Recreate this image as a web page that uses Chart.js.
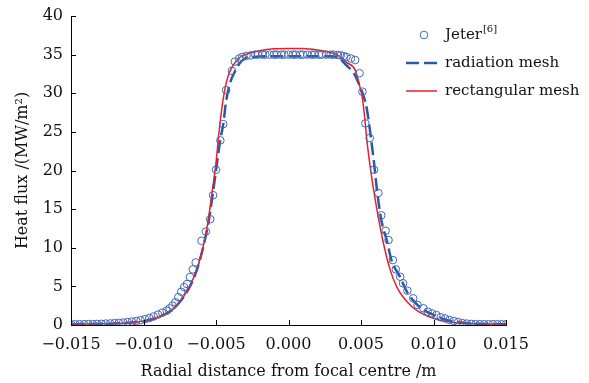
<!DOCTYPE html>
<html>
<head>
<meta charset="utf-8">
<script src="https://cdn.jsdelivr.net/npm/chart.js@4"></script>
<style>
  html, body { margin: 0; padding: 0; background: #fff; }
  #wrap { width: 589px; height: 383px; }
</style>
</head>
<body>
<div id="wrap"><canvas id="c" width="589" height="383"></canvas></div>
<script>
// Jeter[6] measured points
const jeterX = [
  -0.0150, -0.0147, -0.0144, -0.0141, -0.0138, -0.0135, -0.0132, -0.0129, -0.0126, -0.0123,
  -0.0120, -0.0117, -0.0114, -0.0111, -0.0108, -0.0105, -0.0102, -0.0099, -0.0096, -0.0093,
  -0.0090, -0.0087, -0.0084, -0.0082, -0.0080, -0.0078, -0.0076, -0.0074, -0.0072, -0.0070,
  -0.0068, -0.0066, -0.0064, -0.0060, -0.0057, -0.0054, -0.0052, -0.0050, -0.0047, -0.0045,
  -0.0043, -0.0039, -0.0037, -0.0034, -0.0032, -0.0029,
  -0.0026, -0.0023, -0.0021, -0.0018, -0.0016, -0.0013, -0.0010, -0.0008, -0.0005, -0.0003,
  0.0000, 0.0003, 0.0005, 0.0008, 0.0010, 0.0013, 0.0016, 0.0018, 0.0021, 0.0023,
  0.0026, 0.0029, 0.0031, 0.0034, 0.0036, 0.0038, 0.0040, 0.0043, 0.0046,
  0.0049, 0.0051, 0.0053, 0.0056, 0.0059, 0.0062, 0.0064, 0.0067, 0.0069, 0.0072,
  0.0074, 0.0077, 0.0079, 0.0082, 0.0086, 0.0089, 0.0093, 0.0096, 0.0099, 0.0102,
  0.0105, 0.0108, 0.0111, 0.0114, 0.0117, 0.0120, 0.0123, 0.0126, 0.0129, 0.0132,
  0.0135, 0.0138, 0.0141, 0.0144, 0.0147, 0.0150
];
const jeterY = [
  0.10, 0.10, 0.10, 0.10, 0.12, 0.12, 0.14, 0.15, 0.18, 0.20,
  0.25, 0.28, 0.32, 0.38, 0.45, 0.52, 0.62, 0.75, 0.90, 1.10,
  1.35, 1.60, 1.85, 2.15, 2.50, 2.95, 3.60, 4.30, 4.90, 5.30,
  6.20, 7.20, 8.10, 10.9, 12.1, 13.7, 16.8, 20.1, 23.9, 26.0,
  30.4, 32.9, 34.1, 34.5, 34.7, 34.85,
  34.9, 35.0, 35.0, 35.0, 35.0, 35.0, 35.0, 35.0, 35.0, 35.0,
  35.0, 35.0, 35.0, 35.0, 35.0, 35.0, 35.0, 35.0, 35.0, 35.0,
  35.0, 35.0, 35.0, 34.95, 34.9, 34.8, 34.7, 34.5, 34.3,
  32.6, 30.2, 26.1, 24.2, 20.1, 17.1, 14.2, 12.2, 11.0, 8.4,
  7.2, 6.25, 5.4, 4.44, 3.45, 2.59, 2.16, 1.72, 1.50, 1.29,
  1.00, 0.85, 0.65, 0.52, 0.38, 0.25, 0.18, 0.14, 0.12, 0.10,
  0.10, 0.10, 0.10, 0.10, 0.10, 0.10
];

// radiation mesh
const radX = [
  -0.0150, -0.0120, -0.0100, -0.0090, -0.0080, -0.0070, -0.0065, -0.0060, -0.0055, -0.0050,
  -0.0047, -0.0045, -0.0043, -0.0040, -0.0037, -0.0034, -0.0030, -0.0025, 0.0000, 0.0030,
  0.0035, 0.0040, 0.0045, 0.0049, 0.0052, 0.0054, 0.0057, 0.0059, 0.0061, 0.0064,
  0.0068, 0.0071, 0.0077, 0.0082, 0.0090, 0.0100, 0.0110, 0.0120, 0.0130, 0.0150
];
const radY = [
  0.10, 0.20, 0.50, 1.00, 2.00, 4.30, 6.20, 9.20, 13.5, 20.0,
  24.0, 26.0, 29.0, 31.5, 32.8, 33.8, 34.5, 34.7, 34.8, 34.8,
  34.5, 33.6, 32.6, 31.0, 29.5, 28.0, 24.0, 21.0, 17.5, 13.6,
  10.8, 8.4, 6.2, 4.2, 2.4, 1.3, 0.6, 0.3, 0.15, 0.10
];

// rectangular mesh
const rectX = [
  -0.0150, -0.0130, -0.0120, -0.0110, -0.0100, -0.0090, -0.0085, -0.0080, -0.0075, -0.0070,
  -0.0065, -0.0060, -0.0057, -0.0055, -0.0053, -0.0050, -0.0048, -0.0046, -0.0044, -0.0042,
  -0.0040, -0.0035, -0.0030, -0.0020, -0.0010, 0.0000, 0.0010, 0.0020, 0.0030, 0.0035,
  0.0040, 0.0046, 0.0049, 0.0051, 0.0053, 0.0054, 0.0057, 0.0060, 0.0065, 0.0070,
  0.0075, 0.0080, 0.0085, 0.0090, 0.0097, 0.0105, 0.0115, 0.0130, 0.0150
];
const rectY = [
  0.10, 0.15, 0.20, 0.30, 0.50, 1.00, 1.40, 2.00, 3.00, 4.40,
  6.30, 9.30, 11.8, 14.0, 16.8, 21.0, 24.8, 28.0, 30.4, 32.0,
  33.0, 34.4, 35.0, 35.5, 35.75, 35.8, 35.8, 35.6, 35.2, 34.8,
  34.0, 33.0, 31.0, 29.3, 26.0, 24.0, 19.6, 16.0, 11.0, 7.2,
  4.8, 3.4, 2.4, 1.7, 1.07, 0.60, 0.30, 0.15, 0.10
];

const xTicks = [-0.015, -0.010, -0.005, 0.000, 0.005, 0.010, 0.015];
const yTicks = [0, 5, 10, 15, 20, 25, 30, 35, 40];

const FONT = 'DejaVu Serif';
const BLUE_PT = '#4067b4';
const BLUE_LINE = '#2b58a8';
const RED = '#e2232b';

const zip = (xs, ys) => xs.map((x, i) => ({ x: x, y: ys[i] }));
const fmtX = v => (v < 0 ? '\u2212' : '') + Math.abs(v).toFixed(3);

// inward tick marks on both axes
const inwardTicks = {
  id: 'inwardTicks',
  afterDraw(chart) {
    const { ctx, chartArea: a, scales: { x, y } } = chart;
    ctx.save();
    ctx.strokeStyle = '#000';
    ctx.lineWidth = 1;
    ctx.beginPath();
    xTicks.forEach(v => {
      const px = Math.round(x.getPixelForValue(v)) + 0.5;
      ctx.moveTo(px, a.bottom);
      ctx.lineTo(px, a.bottom - 5);
    });
    yTicks.forEach(v => {
      const py = Math.round(y.getPixelForValue(v)) + 0.5;
      ctx.moveTo(a.left, py);
      ctx.lineTo(a.left + 5, py);
    });
    ctx.stroke();
    ctx.restore();
  }
};

// legend with superscript reference
const refLegend = {
  id: 'refLegend',
  afterDraw(chart) {
    const ctx = chart.ctx;
    const x0 = 406, x1 = 437, tx = 445;
    const rows = [35, 63, 91];
    const big = '15px "' + FONT + '"';
    ctx.save();
    ctx.font = big;
    ctx.fillStyle = '#111';
    ctx.textBaseline = 'middle';

    ctx.strokeStyle = BLUE_PT;
    ctx.lineWidth = 1;
    ctx.beginPath();
    ctx.arc(424, rows[0], 3.8, 0, Math.PI * 2);
    ctx.stroke();
    ctx.fillText('Jeter', tx, rows[0]);
    const w = ctx.measureText('Jeter').width;
    ctx.font = '10px "' + FONT + '"';
    ctx.fillText('[6]', tx + w + 1, rows[0] - 6);

    ctx.strokeStyle = BLUE_LINE;
    ctx.lineWidth = 2.5;
    ctx.setLineDash([13, 5]);
    ctx.beginPath();
    ctx.moveTo(x0, rows[1]);
    ctx.lineTo(x1, rows[1]);
    ctx.stroke();
    ctx.setLineDash([]);
    ctx.font = big;
    ctx.fillText('radiation mesh', tx, rows[1]);

    ctx.strokeStyle = RED;
    ctx.lineWidth = 1.5;
    ctx.beginPath();
    ctx.moveTo(x0, rows[2]);
    ctx.lineTo(x1, rows[2]);
    ctx.stroke();
    ctx.fillText('rectangular mesh', tx, rows[2]);
    ctx.restore();
  }
};

new Chart(document.getElementById('c').getContext('2d'), {
  type: 'scatter',
  data: {
    datasets: [
      {
        label: 'Jeter[6]',
        data: zip(jeterX, jeterY),
        showLine: false,
        pointStyle: 'circle',
        pointRadius: 3.8,
        borderColor: BLUE_PT,
        backgroundColor: 'rgba(0,0,0,0)',
        borderWidth: 1,
        order: 0,
      },
      {
        label: 'radiation mesh',
        data: zip(radX, radY),
        showLine: true,
        borderColor: BLUE_LINE,
        borderWidth: 2.5,
        borderDash: [13, 5],
        pointRadius: 0,
        cubicInterpolationMode: 'monotone',
        order: 2,
      },
      {
        label: 'rectangular mesh',
        data: zip(rectX, rectY),
        showLine: true,
        borderColor: RED,
        borderWidth: 1.5,
        pointRadius: 0,
        cubicInterpolationMode: 'monotone',
        order: 1,
      },
    ],
  },
  options: {
    responsive: false,
    animation: false,
    devicePixelRatio: 1,
    layout: { padding: { top: 16, right: 83, left: 0, bottom: 0 } },
    plugins: { legend: { display: false }, tooltip: { enabled: false } },
    scales: {
      x: {
        type: 'linear',
        min: -0.015,
        max: 0.015,
        afterBuildTicks: s => { s.ticks = xTicks.map(v => ({ value: v })); },
        afterFit: s => { s.height = 58; },
        grid: { display: false },
        border: { display: true, color: '#000', width: 1 },
        ticks: {
          color: '#111',
          padding: 2,
          font: { family: FONT, size: 16 },
          callback: v => fmtX(v),
        },
        title: {
          display: true,
          text: 'Radial distance from focal centre /m',
          color: '#111',
          font: { family: FONT, size: 16 },
          padding: { top: 0, bottom: 2 },
        },
      },
      y: {
        min: 0,
        max: 40,
        afterBuildTicks: s => { s.ticks = yTicks.map(v => ({ value: v })); },
        afterFit: s => { s.width = 71; },
        grid: { display: false },
        border: { display: true, color: '#000', width: 1 },
        ticks: {
          color: '#111',
          padding: 0,
          font: { family: FONT, size: 16 },
        },
        title: {
          display: true,
          text: 'Heat flux /(MW/m\u00B2)',
          color: '#111',
          font: { family: FONT, size: 16 },
          padding: { top: 13, bottom: 0 },
        },
      },
    },
  },
  plugins: [inwardTicks, refLegend],
});
</script>
</body>
</html>
